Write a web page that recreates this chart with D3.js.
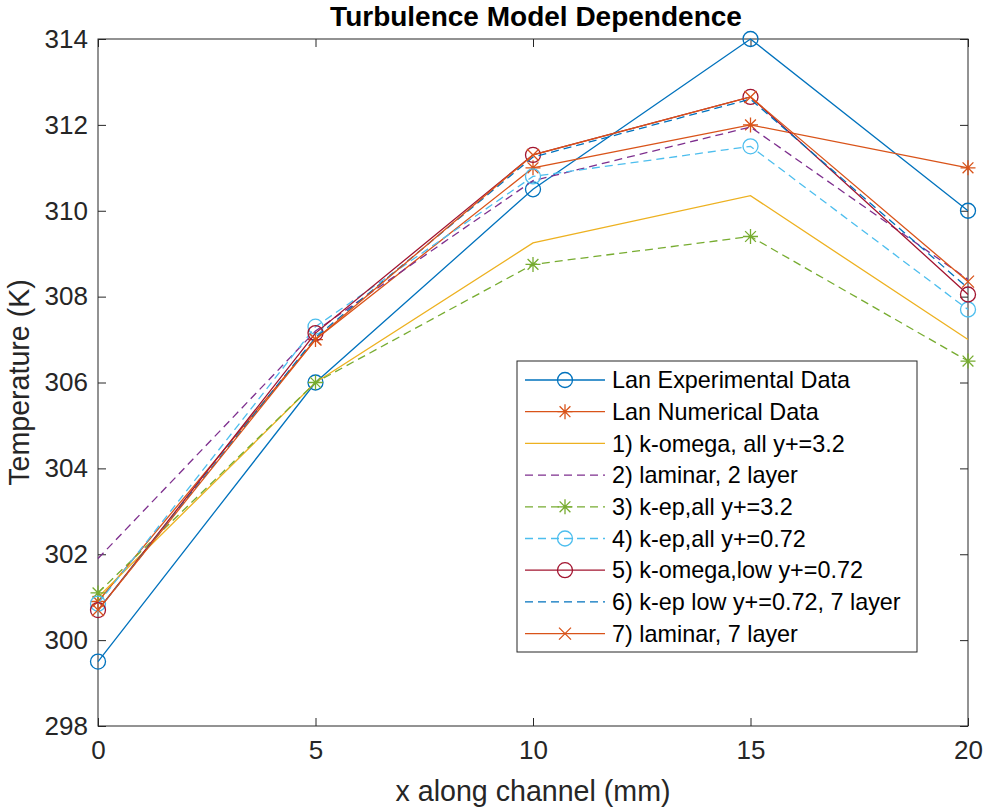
<!DOCTYPE html>
<html>
<head>
<meta charset="utf-8">
<script src="https://cdn.jsdelivr.net/npm/d3@7"></script>
<style>
  body { margin: 0; background: #fff; }
  text { font-family: "Liberation Sans", Arial, sans-serif; }
</style>
</head>
<body>
<svg id="chart" width="984" height="810"></svg>
<script>
// data
const xValues = [0, 5, 10, 15, 20];
const lanExp   = [299.5, 306.0, 310.5, 314.0, 310.0];
const lanNum   = [300.9, 307.0, 311.0, 312.0, 311.0];
const kOmega32 = [301.0, 306.0, 309.25, 310.35, 307.0];
const lam2     = [301.9, 307.2, 310.7, 311.95, 308.4];
const kEp32    = [301.1, 306.0, 308.75, 309.4, 306.5];
const kEp072   = [300.85, 307.3, 310.8, 311.5, 307.7];
const kOmegaLow = [300.7, 307.15, 311.3, 312.65, 308.05];
const kEpLow   = [300.7, 307.05, 311.25, 312.6, 308.2];
const lam7     = [300.7, 307.0, 311.3, 312.65, 308.35];
const xTicks = [0, 5, 10, 15, 20];
const yTicks = [298, 300, 302, 304, 306, 308, 310, 312, 314];

const series = [
  { name: "Lan Experimental Data", values: lanExp, color: "#0072BD", dash: null, marker: "o" },
  { name: "Lan Numerical Data", values: lanNum, color: "#D95319", dash: null, marker: "*" },
  { name: "1) k-omega, all y+=3.2", values: kOmega32, color: "#EDB120", dash: null, marker: null },
  { name: "2) laminar, 2 layer", values: lam2, color: "#7E2F8E", dash: "8,5", marker: null },
  { name: "3) k-ep,all y+=3.2", values: kEp32, color: "#77AC30", dash: "8,5", marker: "*" },
  { name: "4) k-ep,all y+=0.72", values: kEp072, color: "#4DBEEE", dash: "8,5", marker: "o" },
  { name: "5) k-omega,low y+=0.72", values: kOmegaLow, color: "#A2142F", dash: null, marker: "o" },
  { name: "6) k-ep low y+=0.72, 7 layer", values: kEpLow, color: "#0072BD", dash: "8,5", marker: null },
  { name: "7) laminar, 7 layer", values: lam7, color: "#D95319", dash: null, marker: "x" }
];

const svg = d3.select("#chart");
const plotL = 98, plotR = 968, plotT = 39, plotB = 726;

const x = d3.scaleLinear().domain([0, 20]).range([plotL, plotR]);
const y = d3.scaleLinear().domain([298, 314]).range([plotB, plotT]);

function drawMarker(g, type, cx, cy, color) {
  if (type === "o") {
    g.append("circle").attr("cx", cx).attr("cy", cy).attr("r", 7.5)
      .attr("fill", "none").attr("stroke", color).attr("stroke-width", 1.3);
  } else if (type === "*") {
    const r = 7.5;
    const d = r * 0.72;
    const path = `M${cx - r},${cy}L${cx + r},${cy}M${cx},${cy - r}L${cx},${cy + r}` +
      `M${cx - d},${cy - d}L${cx + d},${cy + d}M${cx - d},${cy + d}L${cx + d},${cy - d}`;
    g.append("path").attr("d", path).attr("stroke", color).attr("stroke-width", 1.3).attr("fill", "none");
  } else if (type === "x") {
    const d = 6;
    const path = `M${cx - d},${cy - d}L${cx + d},${cy + d}M${cx - d},${cy + d}L${cx + d},${cy - d}`;
    g.append("path").attr("d", path).attr("stroke", color).attr("stroke-width", 1.3).attr("fill", "none");
  }
}

// axes box
const axisColor = "#262626";
svg.append("rect").attr("x", plotL).attr("y", plotT)
  .attr("width", plotR - plotL).attr("height", plotB - plotT)
  .attr("fill", "none").attr("stroke", axisColor).attr("stroke-width", 1);

const tickLen = 8;
const bottomAxis = d3.axisBottom(x).tickValues(xTicks).tickSizeInner(-tickLen).tickSizeOuter(0).tickPadding(17);
const leftAxis = d3.axisLeft(y).tickValues(yTicks).tickSizeInner(-tickLen).tickSizeOuter(0).tickPadding(10);
const topAxis = d3.axisTop(x).tickValues(xTicks).tickSizeInner(-tickLen).tickSizeOuter(0).tickFormat("");
const rightAxis = d3.axisRight(y).tickValues(yTicks).tickSizeInner(-tickLen).tickSizeOuter(0).tickFormat("");

function styleAxis(g) {
  g.select(".domain").remove();
  g.selectAll("line").attr("stroke", axisColor);
  g.selectAll("text").attr("fill", axisColor).attr("font-size", 26)
    .style("font-family", "'Liberation Sans', Arial, sans-serif");
}

svg.append("g").attr("transform", `translate(0,${plotB})`).call(bottomAxis).call(styleAxis)
  .selectAll("text").attr("dy", "0.62em");
svg.append("g").attr("transform", `translate(${plotL},0)`).call(leftAxis).call(styleAxis);
svg.append("g").attr("transform", `translate(0,${plotT})`).call(topAxis).call(styleAxis);
svg.append("g").attr("transform", `translate(${plotR},0)`).call(rightAxis).call(styleAxis);

// lines and markers
const line = d3.line().x((d, i) => x(xValues[i])).y(d => y(d));
series.forEach(s => {
  const g = svg.append("g");
  g.append("path").datum(s.values).attr("d", line)
    .attr("fill", "none").attr("stroke", s.color).attr("stroke-width", 1.3)
    .attr("stroke-dasharray", s.dash);
  if (s.marker) {
    s.values.forEach((v, i) => drawMarker(g, s.marker, x(xValues[i]), y(v), s.color));
  }
});

// title and axis labels
svg.append("text").attr("x", 536).attr("y", 26)
  .attr("text-anchor", "middle").attr("font-size", 28).attr("font-weight", "bold")
  .attr("fill", "#000").text("Turbulence Model Dependence");
svg.append("text").attr("x", (plotL + plotR) / 2).attr("y", 801)
  .attr("text-anchor", "middle").attr("font-size", 28.6).attr("fill", axisColor)
  .text("x along channel (mm)");
svg.append("text").attr("transform", `translate(29,${(plotT + plotB) / 2}) rotate(-90)`)
  .attr("text-anchor", "middle").attr("font-size", 28.6).attr("fill", axisColor)
  .text("Temperature (K)");

// legend
const lg = svg.append("g");
lg.append("rect").attr("x", 517).attr("y", 361).attr("width", 400).attr("height", 291)
  .attr("fill", "#fff").attr("stroke", axisColor).attr("stroke-width", 1);
series.forEach((s, i) => {
  const cy = 380 + i * 31.7;
  lg.append("line").attr("x1", 525).attr("x2", 605).attr("y1", cy).attr("y2", cy)
    .attr("stroke", s.color).attr("stroke-width", 1.3).attr("stroke-dasharray", s.dash);
  if (s.marker) drawMarker(lg, s.marker, 565, cy, s.color);
  lg.append("text").attr("x", 612).attr("y", cy).attr("dy", "0.35em")
    .attr("font-size", 23.4).attr("fill", "#000").text(s.name);
});
</script>
</body>
</html>
